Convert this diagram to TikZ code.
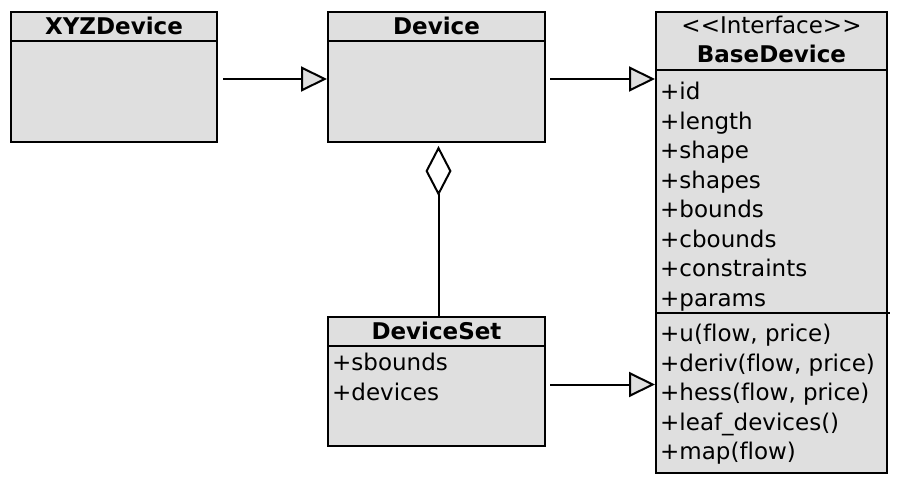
\documentclass[tikz,border=0pt]{standalone}
\usepackage{fontspec}
\setmainfont{DejaVu Sans}[Ligatures={NoCommon}]
\usepackage{xcolor}
\usepackage{tikz}
\usetikzlibrary{positioning,arrows.meta}
\definecolor{boxgray}{HTML}{DFDFDF}
\tikzset{
  classbox/.style={draw=black, fill=boxgray, line width=2pt, inner sep=0pt, anchor=north west},
  classname/.style={font=\fontsize{23}{29.5}\selectfont\bfseries, anchor=base, inner sep=0pt},
  stereo/.style={font=\fontsize{23}{29.5}\selectfont, anchor=base, inner sep=0pt},
  members/.style={font=\fontsize{23}{29.5}\selectfont, align=left, anchor=north west, inner sep=0pt},
  inherit/.style={line width=2pt, -{Triangle[length=26pt, width=25pt, fill=boxgray]}},
  aggregate/.style={line width=2pt, {Diamond[length=50pt, width=26pt, fill=white]}-}
}

\begin{document}
\begin{tikzpicture}[x=1pt,y=-1pt]
\useasboundingbox (0,0) rectangle (897,481);

% class boxes
\node[classbox, minimum width=206pt, minimum height=130pt] (xyz) at (10,11) {};
\node[classbox, minimum width=217pt, minimum height=130pt] (dev) at (327,11) {};
\node[classbox, minimum width=217pt, minimum height=129pt] (set) at (327,316) {};
\node[classbox, minimum width=231pt, minimum height=461pt] (base) at (655,11) {};

% compartment lines
\draw[line width=2pt] ([yshift=-30pt]xyz.north west) -- ([yshift=-30pt]xyz.north east);
\draw[line width=2pt] ([yshift=-30pt]dev.north west) -- ([yshift=-30pt]dev.north east);
\draw[line width=2pt] ([yshift=-30pt]set.north west) -- ([yshift=-30pt]set.north east);
\draw[line width=2pt] ([yshift=-59pt]base.north west) -- ([yshift=-59pt]base.north east);
\draw[line width=2pt] ([yshift=-302pt]base.north west) -- ([yshift=-302pt,xshift=2pt]base.north east);

% names
\node[classname] (xyzname) at ([yshift=-24pt]xyz.north) {XYZDevice};
\node[classname] (devname) at ([yshift=-24pt]dev.north) {Device};
\node[classname] (setname) at ([yshift=-23pt]set.north) {DeviceSet};
\node[stereo] (basestereo) at ([yshift=-23pt]base.north) {{<}{<}Interface{>}{>}};
\node[classname] (basename) at ([yshift=-52pt]base.north) {BaseDevice};

% members
\node[members] (baseattr) at ([xshift=5pt,yshift=-71pt]base.north west)
  {+id\\+length\\+shape\\+shapes\\+bounds\\+cbounds\\+constraints\\+params};
\node[members] (baseops) at ([xshift=5pt,yshift=-313pt]base.north west)
  {+u(flow, price)\\+deriv(flow, price)\\+hess(flow, price)\\+leaf\_devices()\\+map(flow)};
\node[members] (setattr) at ([xshift=5pt,yshift=-37pt]set.north west)
  {+sbounds\\+devices};

% relations
\coordinate (xyzout) at ([xshift=5pt,yshift=-2pt]xyz.east);
\coordinate (devout) at ([xshift=4pt,yshift=-2pt]dev.east);
\coordinate (setout) at ([xshift=4pt,yshift=-3pt]set.east);
\draw[inherit] (xyzout) -- (dev.west |- xyzout);
\draw[inherit] (devout) -- (base.west |- devout);
\draw[inherit] (setout) -- (base.west |- setout);
\draw[aggregate] ([xshift=2pt,yshift=-3pt]dev.south) -- ([xshift=2pt]set.north);
\end{tikzpicture}
\end{document}
